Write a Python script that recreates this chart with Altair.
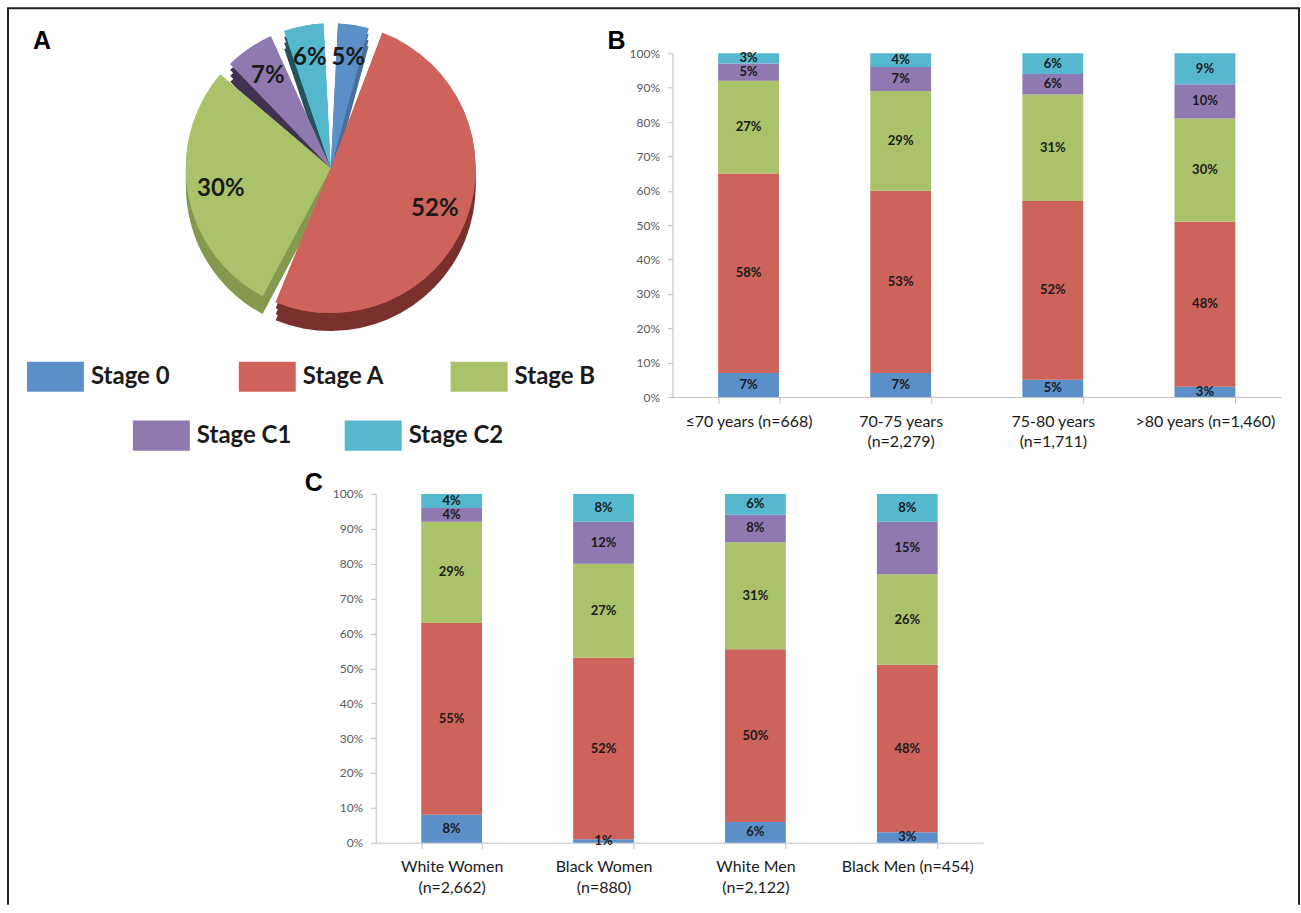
import altair as alt
import pandas as pd

# ---------------- data ----------------
stages = ["Stage 0", "Stage A", "Stage B", "Stage C1", "Stage C2"]
stage_colors = ["#5b8fc9", "#cd635b", "#aac36a", "#8f79b0", "#56b8cf"]
side_colors = ["#4a6f9c", "#7a302d", "#85994e", "#403250", "#25525c"]

overall_pct = [5, 52, 30, 7, 6]

age_groups = ["≤70 years (n=668)", "70-75 years\n(n=2,279)",
              "75-80 years\n(n=1,711)", ">80 years (n=1,460)"]
age_stage0 = [7, 7, 5, 3]
age_stageA = [58, 53, 52, 48]
age_stageB = [27, 29, 31, 30]
age_stageC1 = [5, 7, 6, 10]
age_stageC2 = [3, 4, 6, 9]

race_groups = ["White Women\n(n=2,662)", "Black Women\n(n=880)",
               "White Men\n(n=2,122)", "Black Men (n=454)"]
race_stage0 = [8, 1, 6, 3]
race_stageA = [55, 52, 50, 48]
race_stageB = [29, 27, 31, 26]
race_stageC1 = [4, 12, 8, 15]
race_stageC2 = [4, 8, 6, 8]

FONT = "Lato"
one_row = pd.DataFrame({"k": [0]})


# ---------------- stacked bar layers ----------------
def bar_layers(groups, series, x_range=None, y_offset=None):
    rows = []
    for si, (stage, vals) in enumerate(zip(stages, series)):
        for g, v in zip(groups, vals):
            rows.append({"group": g, "stage": stage, "order": si, "pct": v})
    df = pd.DataFrame(rows)
    base = alt.Chart(df).transform_stack(
        stack="pct", groupby=["group"], as_=["y0", "y1"],
        sort=[alt.SortField(field="order", order="ascending")], offset="normalize",
    ).transform_calculate(
        mid="(datum.y0 + datum.y1) / 2", label="datum.pct + '%'"
    )
    if x_range is not None:
        xscale = alt.Scale(paddingInner=0.6, paddingOuter=0.3, range=x_range)
    else:
        xscale = alt.Scale(paddingInner=0.6, paddingOuter=0.3)
    xaxis = alt.Axis(title=None, labelAngle=0, labelExpr="split(datum.label, '\\n')",
                     tickBand="extent", domainColor="#bfbfbf", tickColor="#bfbfbf",
                     tickSize=6, labelFont=FONT, labelFontSize=16, labelColor="#1a1a1a",
                     labelPadding=10, labelLineHeight=21, labelLimit=300)
    ykw = dict(title=None, format=".0%", values=[i / 10 for i in range(11)],
               grid=False, domainColor="#bfbfbf", tickColor="#bfbfbf", tickSize=5,
               labelFont=FONT, labelFontSize=12, labelColor="#595959", labelPadding=8,
               labelOverlap=False)
    if y_offset is not None:
        ykw["offset"] = y_offset
    yaxis = alt.Axis(**ykw)
    yscale = alt.Scale(domain=[0, 1])
    bars = base.mark_bar().encode(
        x=alt.X("group:N", sort=groups, scale=xscale, axis=xaxis),
        y=alt.Y("y0:Q", scale=yscale, axis=yaxis),
        y2="y1:Q",
        color=alt.Color("stage:N", scale=alt.Scale(domain=stages, range=stage_colors), legend=None),
    )
    text = base.mark_text(font=FONT, fontSize=13, fontWeight="bold", color="#1a1a1a",
                          baseline="middle").encode(
        x=alt.X("group:N", sort=groups, scale=xscale, axis=xaxis),
        y=alt.Y("mid:Q", scale=yscale, axis=yaxis),
        text="label:N",
    )
    return [bars, text]


def letter(ch, lx, ly):
    return alt.Chart(one_row).mark_text(
        font="Liberation Sans", fontSize=25, fontWeight="bold",
        align="left", baseline="middle", color="#000000").encode(
        x=alt.value(lx), y=alt.value(ly), text=alt.value(ch))


# ---------------- top row: pie (A) + bars (B) in one view ----------------
# view origin is the top-left of panel B's x-range region
OX = 375
WT, HT = 906, 344
CX, CY, R = 330 - OX, 115, 145
PAD = 0.1
SQ = "M-1,-0.53H1V0.53H-1Z"

pie_df = pd.DataFrame({"stage": stages, "pct": overall_pct,
                       "order": list(range(len(stages)))})
pie_df["label"] = pie_df["pct"].astype(str) + "%"
pie_base = alt.Chart(pie_df)
theta = alt.Theta("pct:Q", stack=True)
order = alt.Order("order:Q", sort="ascending")

layers = bar_layers(age_groups,
                    [age_stage0, age_stageA, age_stageB, age_stageC1, age_stageC2],
                    x_range=[297, 906], y_offset=-297)
layers.append(letter("B", 607 - OX, -12))

for off in [18, 12, 6]:
    layers.append(
        pie_base.mark_arc(radius=R, padAngle=PAD).encode(
            theta=theta, order=order,
            color=alt.Color("stage:N", scale=alt.Scale(domain=stages, range=side_colors), legend=None),
            x=alt.value(CX), y=alt.value(CY + off),
        )
    )


def legend_for(values, lx, ly, cpad):
    return alt.Legend(
        values=values, orient="none", legendX=lx, legendY=ly,
        direction="horizontal", columns=len(values), gridAlign="all",
        title=None, symbolType=SQ, symbolSize=3249, symbolStrokeWidth=0,
        symbolOpacity=1, labelFont=FONT, labelFontSize=24, labelFontWeight="bold",
        labelColor="#1a1a1a", labelOffset=7, columnPadding=cpad, padding=0,
        labelLimit=300,
    )


layers.append(
    pie_base.mark_arc(radius=R, padAngle=PAD).encode(
        theta=theta, order=order,
        color=alt.Color("stage:N", scale=alt.Scale(domain=stages, range=stage_colors),
                        legend=legend_for(stages[:3], 26 - OX, 295, 66)),
        x=alt.value(CX), y=alt.value(CY),
    )
)
layers.append(
    pie_base.mark_arc(radius=R, padAngle=PAD).encode(
        theta=theta, order=order,
        color=alt.Color("stage:N", scale=alt.Scale(domain=stages, range=stage_colors),
                        legend=legend_for(stages[3:], 132 - OX, 354, 53)),
        x=alt.value(CX), y=alt.value(CY),
    )
)
layers.append(
    pie_base.mark_text(radius=112, font=FONT, fontSize=24, fontWeight="bold",
                       color="#1a1a1a").encode(
        theta=theta, order=order, text="label:N",
        x=alt.value(CX), y=alt.value(CY),
    )
)
layers.append(letter("A", 32 - OX, -12))

# outer frame (left, top, right edges)
frame = alt.Chart(one_row)
FL, FR, FT, FB = 7 - OX, 1299 - OX, -45, 852
layers.append(frame.mark_rule(color="#222222", strokeWidth=2).encode(
    x=alt.value(FL), y=alt.value(FT), y2=alt.value(FB)))
layers.append(frame.mark_rule(color="#222222", strokeWidth=2).encode(
    x=alt.value(FL - 1), x2=alt.value(FR + 1), y=alt.value(FT)))
layers.append(frame.mark_rule(color="#222222", strokeWidth=2).encode(
    x=alt.value(FR), y=alt.value(FT), y2=alt.value(FB)))

top = alt.layer(*layers).resolve_scale(color="independent").properties(width=WT, height=HT)

# ---------------- bottom: panel C ----------------
c_layers = bar_layers(race_groups,
                      [race_stage0, race_stageA, race_stageB, race_stageC1, race_stageC2])
c_layers.append(letter("C", -71, -11))
panelC = alt.layer(*c_layers).properties(width=608, height=349)

chart = alt.VConcatChart(
    vconcat=[top, panelC], bounds="flush", spacing=97,
).resolve_scale(color="independent").properties(
    padding={"left": 6, "top": 7, "right": 0, "bottom": 0},
    background="#ffffff",
).configure(font=FONT).configure_view(strokeWidth=0)

chart.save("out.html", embed_options={"renderer": "svg", "actions": False})
